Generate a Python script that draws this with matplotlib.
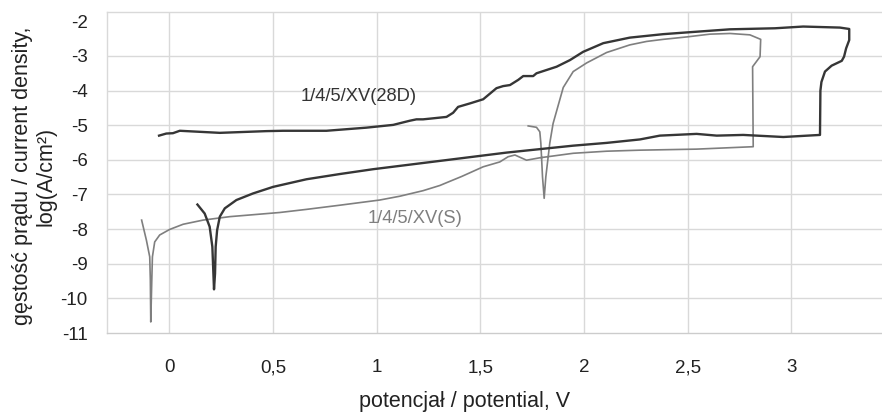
import matplotlib
matplotlib.use('Agg')
import matplotlib.pyplot as plt

plt.rcParams['font.family'] = ['Liberation Sans', 'DejaVu Sans']
plt.rcParams['axes.unicode_minus'] = False

# 1/4/5/XV(28D) - dark curve (forward scan then reverse)
x_28d = [0.136, 0.171, 0.195, 0.208, 0.216, 0.221, 0.224, 0.231, 0.244, 0.268,
         0.324, 0.404, 0.501, 0.662, 0.822, 0.983, 1.144, 1.305, 1.466, 1.627,
         1.787, 1.948, 2.109, 2.270, 2.366, 2.543, 2.640, 2.768, 2.961, 3.138,
         3.140, 3.145, 3.162, 3.194, 3.243, 3.254, 3.264, 3.279, 3.279, 3.234,
         3.057, 2.921, 2.704, 2.495, 2.382, 2.221, 2.093, 1.996, 1.932, 1.868,
         1.771, 1.755, 1.707, 1.683, 1.643, 1.610, 1.578, 1.514, 1.450, 1.393,
         1.369, 1.337, 1.321, 1.257, 1.224, 1.192, 1.160, 1.080, 0.951, 0.758,
         0.549, 0.469, 0.244, 0.083, 0.051, 0.018, -0.014, -0.049]
y_28d = [-7.29, -7.55, -7.93, -8.51, -9.74, -9.28, -8.51, -8.03, -7.64, -7.40,
         -7.16, -6.97, -6.78, -6.56, -6.41, -6.27, -6.15, -6.03, -5.91, -5.79,
         -5.69, -5.59, -5.51, -5.41, -5.30, -5.25, -5.30, -5.28, -5.34, -5.28,
         -4.00, -3.75, -3.45, -3.28, -3.14, -3.02, -2.78, -2.54, -2.22, -2.18,
         -2.15, -2.20, -2.23, -2.32, -2.37, -2.47, -2.63, -2.88, -3.12, -3.31,
         -3.50, -3.58, -3.58, -3.69, -3.84, -3.87, -3.93, -4.25, -4.37, -4.47,
         -4.64, -4.76, -4.77, -4.81, -4.83, -4.83, -4.87, -4.99, -5.07, -5.16,
         -5.16, -5.17, -5.22, -5.17, -5.16, -5.23, -5.24, -5.30]

# 1/4/5/XV(S) - gray curve
x_s = [-0.133, -0.110, -0.094, -0.091, -0.089, -0.084, -0.081, -0.070, -0.046, 0.002,
       0.067, 0.163, 0.292, 0.533, 0.662, 0.822, 1.015, 1.112, 1.224, 1.305,
       1.337, 1.410, 1.514, 1.594, 1.634, 1.667, 1.723, 1.787, 1.948, 2.109,
       2.270, 2.543, 2.816, 2.813, 2.849, 2.852, 2.800, 2.704, 2.607, 2.495,
       2.382, 2.302, 2.221, 2.109, 2.013, 1.948, 1.900, 1.851, 1.835, 1.816,
       1.808, 1.800, 1.792, 1.787, 1.771, 1.731]
y_s = [-7.74, -8.32, -8.80, -9.47, -10.68, -9.47, -8.80, -8.37, -8.17, -8.01,
       -7.86, -7.74, -7.64, -7.52, -7.43, -7.31, -7.16, -7.05, -6.89, -6.74,
       -6.66, -6.48, -6.20, -6.06, -5.91, -5.86, -6.01, -5.94, -5.81, -5.75,
       -5.72, -5.69, -5.62, -3.31, -3.02, -2.52, -2.39, -2.35, -2.37, -2.45,
       -2.52, -2.58, -2.68, -2.90, -3.20, -3.45, -3.91, -4.95, -5.52, -6.49,
       -7.11, -6.49, -5.52, -5.19, -5.06, -5.02]

x_ticks = [0, 0.5, 1, 1.5, 2, 2.5, 3]
x_tick_labels = ['0', '0,5', '1', '1,5', '2', '2,5', '3']
y_ticks = [-11, -10, -9, -8, -7, -6, -5, -4, -3, -2]

dark = '#363636'
gray = '#7f7f7f'
grid_c = '#d9d9d9'

fig = plt.figure(figsize=(8.82, 4.12), dpi=100)
ax = fig.add_axes([107 / 882, 79 / 412, 775 / 882, 321 / 412])

for v in x_ticks:
    ax.axvline(v, color=grid_c, lw=1, zorder=0)
for v in y_ticks[1:-1]:
    ax.axhline(v, color=grid_c, lw=1, zorder=0)

ax.plot(x_s, y_s, color=gray, lw=1.2)
ax.plot(x_28d, y_28d, color=dark, lw=1.7)

ax.text(0.914, -4.17, '1/4/5/XV(28D)', color='#333333', fontsize=13.2,
        ha='center', va='center')
ax.text(1.184, -7.68, '1/4/5/XV(S)', color=gray, fontsize=13.2,
        ha='center', va='center')

ax.set_xlim(-0.3, 3.437)
ax.set_ylim(-11, -1.73)
ax.set_xticks(x_ticks)
ax.set_xticklabels(x_tick_labels)
ax.set_yticks(y_ticks)
ax.tick_params(axis='x', length=0, pad=19, labelsize=13.5, colors='#222222')
ax.tick_params(axis='y', length=0, pad=14, labelsize=13.5, colors='#222222')

ax.spines['right'].set_visible(False)
for s in ['left', 'top']:
    ax.spines[s].set_color(grid_c)
    ax.spines[s].set_linewidth(1)
ax.spines['bottom'].set_color('#cccccc')
ax.spines['bottom'].set_linewidth(1)

fig.text(34.5 / 882, 1 - 176 / 412, 'gęstość prądu / current density,\nlog(A/cm²)',
         rotation=90, ha='center', va='center', multialignment='center',
         fontsize=15.5, color='#222222', linespacing=1.15)
fig.text(465 / 882, 1 - 401 / 412, 'potencjał / potential, V',
         ha='center', va='center', fontsize=15.5, color='#222222')

fig.savefig('out.png', dpi=100)
